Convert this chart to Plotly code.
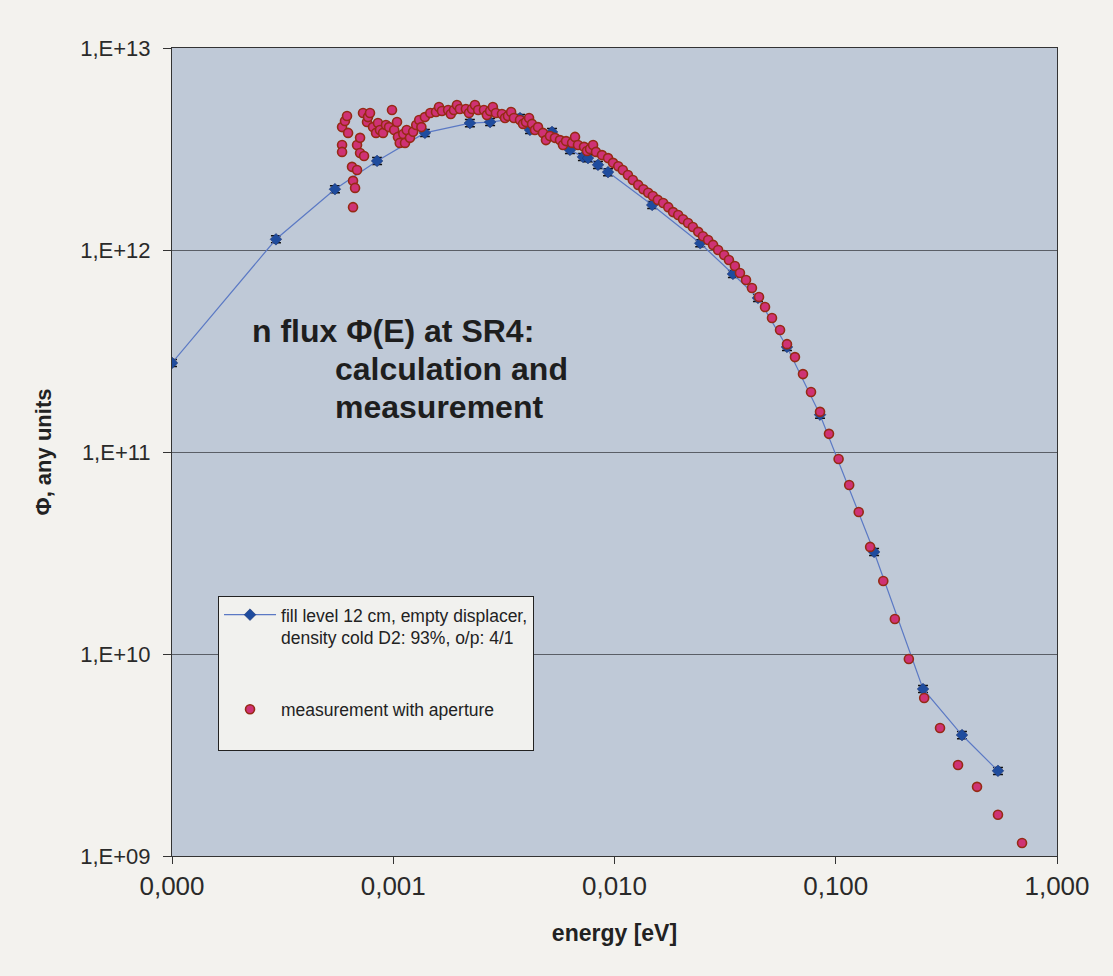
import plotly.graph_objects as go

# ---- calculation: fill level 12 cm, empty displacer ----
calc_energy = [1.00e-4, 2.95e-4, 5.45e-4, 8.45e-4, 1.39e-3, 2.22e-3, 2.74e-3, 3.74e-3,
               4.15e-3, 5.22e-3, 6.29e-3, 7.20e-3, 7.59e-3, 8.42e-3, 9.35e-3, 1.48e-2,
               2.44e-2, 3.43e-2, 4.45e-2, 6.02e-2, 8.49e-2, 0.149, 0.248, 0.372, 0.541]
calc_flux = [2.76e11, 1.13e12, 2.00e12, 2.76e12, 3.80e12, 4.25e12, 4.30e12, 4.50e12,
             3.93e12, 3.84e12, 3.13e12, 2.89e12, 2.85e12, 2.64e12, 2.43e12, 1.67e12,
             1.08e12, 7.61e11, 5.79e11, 3.31e11, 1.53e11, 3.20e10, 6.71e9, 3.97e9, 2.64e9]

# ---- measurement with aperture ----
meas_energy = [
    5.87e-4, 5.87e-4, 5.87e-4, 6.05e-4, 6.18e-4, 6.25e-4, 6.51e-4, 6.58e-4, 6.58e-4, 6.72e-4,
    6.86e-4, 6.86e-4, 7.08e-4, 7.08e-4, 7.30e-4, 7.38e-4, 7.61e-4, 7.69e-4, 7.85e-4, 8.10e-4,
    8.36e-4, 8.53e-4, 8.71e-4, 8.99e-4, 9.27e-4, 9.57e-4, 9.87e-4, 1.01e-3, 1.04e-3, 1.05e-3,
    1.07e-3, 1.11e-3, 1.13e-3, 1.15e-3, 1.19e-3, 1.23e-3, 1.27e-3, 1.31e-3, 1.34e-3, 1.39e-3,
    1.47e-3, 1.56e-3, 1.61e-3, 1.66e-3, 1.77e-3, 1.82e-3, 1.88e-3, 1.94e-3, 2.00e-3, 2.13e-3,
    2.20e-3, 2.27e-3, 2.34e-3, 2.42e-3, 2.57e-3, 2.65e-3, 2.74e-3, 2.82e-3, 2.91e-3, 3.10e-3,
    3.20e-3, 3.30e-3, 3.41e-3, 3.51e-3, 3.74e-3, 3.86e-3, 3.98e-3, 4.11e-3, 4.24e-3, 4.37e-3,
    4.51e-3, 4.75e-3, 4.90e-3, 5.11e-3, 5.38e-3, 5.67e-3, 5.85e-3, 6.04e-3, 6.43e-3, 6.63e-3,
    6.84e-3, 7.28e-3, 7.51e-3, 7.75e-3, 8.00e-3, 8.25e-3, 8.78e-3, 9.35e-3, 9.85e-3, 1.04e-2,
    1.09e-2, 1.15e-2, 1.21e-2, 1.28e-2, 1.35e-2, 1.42e-2, 1.49e-2, 1.57e-2, 1.66e-2, 1.75e-2,
    1.84e-2, 1.94e-2, 2.04e-2, 2.15e-2, 2.26e-2, 2.39e-2, 2.51e-2, 2.65e-2, 2.79e-2, 2.94e-2,
    3.13e-2, 3.29e-2, 3.50e-2, 3.69e-2, 3.93e-2, 4.18e-2, 4.50e-2, 4.79e-2, 5.15e-2, 5.60e-2,
    6.02e-2, 6.54e-2, 7.11e-2, 7.73e-2, 8.49e-2, 9.32e-2, 0.103, 0.115, 0.127, 0.143,
    0.164, 0.185, 0.214, 0.251, 0.296, 0.357, 0.435, 0.541, 0.695]
meas_flux = [
    4.06e12, 3.31e12, 3.06e12, 4.35e12, 4.61e12, 3.80e12, 2.58e12, 2.20e12, 1.63e12, 2.03e12,
    3.31e12, 2.49e12, 3.59e12, 3.02e12, 4.77e12, 2.92e12, 4.30e12, 4.55e12, 4.77e12, 4.06e12,
    3.80e12, 4.25e12, 3.93e12, 3.80e12, 4.16e12, 4.06e12, 4.93e12, 3.93e12, 4.30e12, 3.63e12,
    3.39e12, 3.75e12, 3.39e12, 3.93e12, 3.59e12, 3.85e12, 4.16e12, 4.40e12, 4.06e12, 4.55e12,
    4.77e12, 4.82e12, 5.10e12, 4.88e12, 4.93e12, 4.71e12, 4.93e12, 5.22e12, 4.99e12, 4.99e12,
    4.77e12, 4.99e12, 5.22e12, 4.93e12, 4.93e12, 4.66e12, 4.88e12, 5.10e12, 4.77e12, 4.71e12,
    4.50e12, 4.61e12, 4.82e12, 4.50e12, 4.40e12, 4.21e12, 4.30e12, 4.50e12, 4.21e12, 3.93e12,
    4.06e12, 3.80e12, 3.50e12, 3.67e12, 3.59e12, 3.50e12, 3.31e12, 3.46e12, 3.39e12, 3.63e12,
    3.31e12, 3.24e12, 3.09e12, 3.16e12, 3.31e12, 3.06e12, 2.95e12, 2.85e12, 2.70e12, 2.60e12,
    2.49e12, 2.35e12, 2.22e12, 2.10e12, 2.00e12, 1.92e12, 1.85e12, 1.77e12, 1.71e12, 1.63e12,
    1.54e12, 1.49e12, 1.42e12, 1.36e12, 1.30e12, 1.23e12, 1.17e12, 1.12e12, 1.06e12, 1.00e12,
    9.45e11, 8.92e11, 8.33e11, 7.69e11, 7.10e11, 6.48e11, 5.85e11, 5.22e11, 4.61e11, 4.02e11,
    3.42e11, 2.95e11, 2.43e11, 1.98e11, 1.58e11, 1.23e11, 9.23e10, 6.87e10, 5.05e10, 3.39e10,
    2.30e10, 1.49e10, 9.45e9, 6.06e9, 4.30e9, 2.82e9, 2.20e9, 1.60e9, 1.16e9]

x_tickvals = [1e-4, 1e-3, 1e-2, 1e-1, 1]
x_ticktext = ["0,000", "0,001", "0,010", "0,100", "1,000"]
y_tickvals = [1e9, 1e10, 1e11, 1e12, 1e13]
y_ticktext = ["1,E+09", "1,E+10", "1,E+11", "1,E+12", "1,E+13"]

FONT = "Liberation Sans, Arial, sans-serif"

fig = go.Figure()

fig.add_trace(go.Scatter(
    x=calc_energy, y=calc_flux, mode="lines+markers",
    name="fill level 12 cm, empty displacer,<br>density cold D2: 93%, o/p: 4/1",
    legendgroup="calc",
    line=dict(color="#5b79c4", width=1.2),
    marker=dict(symbol="diamond", size=9, color="#1f4c9e",
                line=dict(color="#1a2f6a", width=0.5)),
    error_y=dict(type="percent", value=4, color="#111111", thickness=1.5, width=5),
))

fig.add_trace(go.Scatter(
    x=meas_energy, y=meas_flux, mode="markers",
    name="measurement with aperture<br>\u00a0",
    legendgroup="meas",
    marker=dict(symbol="circle", size=9, color="#cf3275",
                line=dict(color="#962a14", width=1.6)),
))

fig.update_layout(
    width=1113, height=976,
    margin=dict(l=172, r=56, t=48, b=120),
    paper_bgcolor="#f3f2ee",
    plot_bgcolor="#bfc9d7",
    font=dict(family=FONT, color="#222222"),
    showlegend=True,
    legend=dict(
        x=0.052, y=0.322, xanchor="left", yanchor="top",
        bgcolor="#f1f1ee", bordercolor="#222222", borderwidth=1,
        font=dict(size=17.5, color="#222222", family=FONT),
        itemwidth=52, tracegroupgap=46, valign="top",
    ),
    annotations=[
        dict(text="<b>n flux Φ(E) at SR4:</b>", xref="paper", yref="paper",
             x=(250 - 172) / 885, y=(856 - 331) / 808, xanchor="left", yanchor="middle",
             showarrow=False, font=dict(size=32, color="#1e1e1e", family=FONT)),
        dict(text="<b>calculation and</b>", xref="paper", yref="paper",
             x=(333 - 172) / 885, y=(856 - 369) / 808, xanchor="left", yanchor="middle",
             showarrow=False, font=dict(size=32, color="#1e1e1e", family=FONT)),
        dict(text="<b>measurement</b>", xref="paper", yref="paper",
             x=(333 - 172) / 885, y=(856 - 407) / 808, xanchor="left", yanchor="middle",
             showarrow=False, font=dict(size=32, color="#1e1e1e", family=FONT)),
    ],
)

fig.update_xaxes(
    type="log", range=[-4, 0],
    tickvals=x_tickvals, ticktext=x_ticktext,
    ticks="outside", ticklen=7, tickcolor="#333333",
    showgrid=False, zeroline=False,
    showline=True, linecolor="#333333", linewidth=1, mirror=True,
    tickfont=dict(size=26, color="#2a2a2a"),
    title=dict(text="<b>energy [eV]</b>", font=dict(size=23, color="#222222"), standoff=24),
)
fig.update_yaxes(
    type="log", range=[9, 13],
    tickvals=y_tickvals, ticktext=y_ticktext,
    ticks="outside", ticklen=8, tickcolor="#333333", ticklabelstandoff=8,
    showgrid=True, gridcolor="#5a5e66", gridwidth=1, zeroline=False,
    showline=True, linecolor="#333333", linewidth=1, mirror=True,
    tickfont=dict(size=22, color="#2a2a2a"),
    title=dict(text="<b>Φ, any units</b>", font=dict(size=22, color="#222222"), standoff=22),
)

fig.write_html("out.html")
